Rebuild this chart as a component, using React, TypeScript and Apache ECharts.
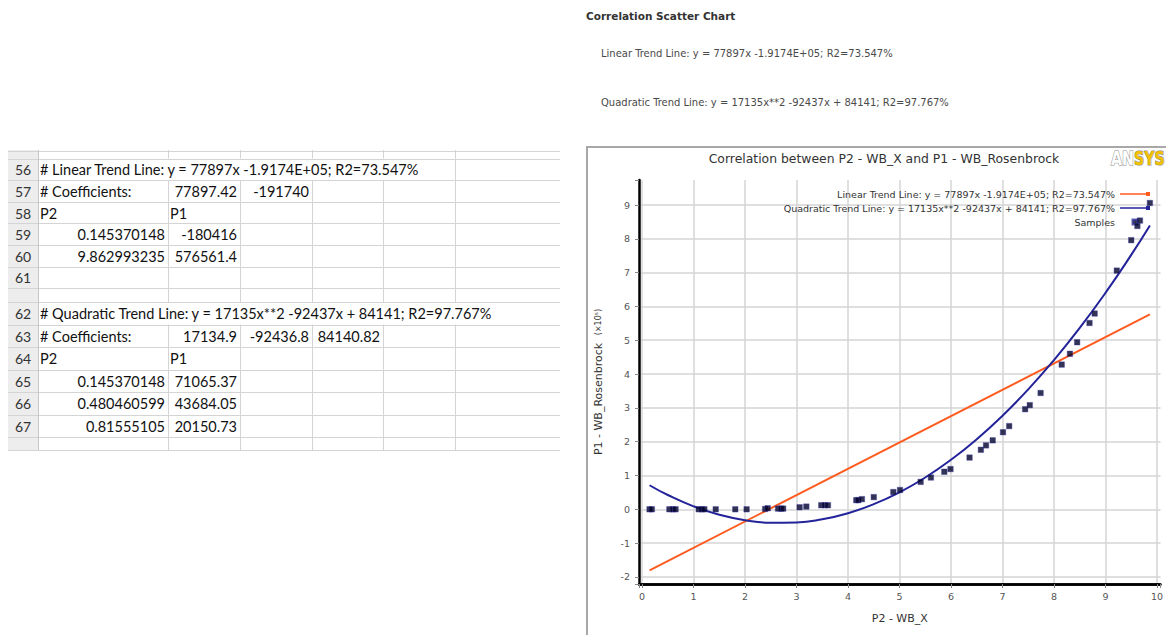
import React, { useEffect, useRef } from "react";
import * as echarts from "echarts";

// ---------- data ----------
const legendNames = [
  "Linear Trend Line: y = 77897x -1.9174E+05; R2=73.547%",
  "Quadratic Trend Line: y = 17135x**2 -92437x + 84141; R2=97.767%",
  "Samples",
];

// samples: P2 (x) and P1 (y, in units of 1e5)
const sampleP2 = [
  0.145, 0.19, 0.53, 0.6, 0.65, 1.1, 1.16, 1.21, 1.43, 1.81, 2.03, 2.39, 2.44, 2.64, 2.7, 2.74,
  3.06, 3.19, 3.48, 3.55, 3.61, 4.16, 4.2, 4.27, 4.5, 4.88, 5.01, 5.41, 5.61, 5.87, 5.99, 6.36,
  6.58, 6.68, 6.81, 7.01, 7.13, 7.44, 7.53, 7.74, 8.15, 8.31, 8.45, 8.69, 8.79, 9.22, 9.5, 9.62,
  9.67, 9.863,
];
const sampleP1 = [
  0.0, 0.0, 0.0, 0.0, 0.0, 0.0, 0.0, 0.0, 0.0, 0.0, 0.0, 0.01, 0.03, 0.02, 0.02, 0.02,
  0.06, 0.08, 0.12, 0.12, 0.12, 0.27, 0.27, 0.3, 0.36, 0.51, 0.57, 0.81, 0.94, 1.11, 1.19, 1.53,
  1.76, 1.89, 2.04, 2.28, 2.46, 2.96, 3.08, 3.44, 4.28, 4.6, 4.94, 5.51, 5.79, 7.06, 7.96, 8.38,
  8.54, 9.06,
];

// linear trend line end points (P1 in 1e5)
const linearP2 = [0.145370148, 9.862993235];
const linearP1 = [-1.80416, 5.765614];

// quadratic trend line points (P1 in 1e5)
const quadP2 = [0.145, 0.5, 1, 1.5, 2, 2.5, 3, 3.5, 4, 4.5, 5, 5.5, 6, 6.5, 7, 7.5, 8, 8.5, 9, 9.5, 9.863];
const quadP1 = [0.711, 0.422, 0.088, -0.16, -0.322, -0.399, -0.39, -0.295, -0.115, 0.152, 0.503, 0.941, 1.464, 2.073, 2.767, 3.547, 4.413, 5.364, 6.401, 7.524, 8.393];

// axis extents
const xRange = [-0.06, 10.07];
const yRange = [-2.21, 9.74];

// spreadsheet
const sheetRowNumbers1 = [56, 57, 58, 59, 60, 61];
const sheetCells1 = [
  ["# Linear Trend Line: y = 77897x -1.9174E+05; R2=73.547%"],
  ["# Coefficients:", "77897.42", "-191740"],
  ["P2", "P1"],
  ["0.145370148", "-180416"],
  ["9.862993235", "576561.4"],
  [],
];
const sheetRowNumbers2 = [62, 63, 64, 65, 66, 67];
const sheetCells2 = [
  ["# Quadratic Trend Line: y = 17135x**2 -92437x + 84141; R2=97.767%"],
  ["# Coefficients:", "17134.9", "-92436.8", "84140.82"],
  ["P2", "P1"],
  ["0.145370148", "71065.37"],
  ["0.480460599", "43684.05"],
  ["0.81555105", "20150.73"],
];

const topTitle = "Correlation Scatter Chart";
const chartTitle = "Correlation between P2 - WB_X and P1 - WB_Rosenbrock";

// ---------- layout ----------
const FONT_CHART = "'DejaVu Sans', sans-serif";
const FONT_TOP = "'DejaVu Sans Condensed', 'DejaVu Sans', sans-serif";
const FONT_SHEET = "Lato, 'Noto Sans', sans-serif";
const colEdges = [38, 168, 240, 312, 383, 455, 560];
const headerLeft = 8;
const blocks = [
  { top: 158.5, rowH: 21.6, numbers: sheetRowNumbers1, cells: sheetCells1, spans: [5, 1, 1, 1, 1, 1] },
  { top: 302, rowH: 22.5, numbers: sheetRowNumbers2, cells: sheetCells2, spans: [6, 1, 1, 1, 1, 1] },
];
const strips = [
  [150, 158.5],
  [288.1, 302],
  [437, 450],
];

const ICON_LINE = "path://M0,3.2H26V2H30V6H26V4.8H0Z";
const ICON_SAMPLE = "path://M0,0M8,8M1.5,1.5H6.5V6.5H1.5Z";

function isNumeric(t: string) {
  return /^-?[0-9.]+$/.test(t);
}

function buildSheet(): any[] {
  const els: any[] = [];
  const gridColor = "#d4d4d4";
  els.push({
    type: "rect",
    shape: { x: headerLeft, y: 150, width: colEdges[0] - headerLeft, height: 300 },
    style: { fill: "#ededed" },
  });
  for (const [a, b] of strips) {
    for (let k = 1; k <= 5; k++) {
      els.push({
        type: "line",
        shape: { x1: colEdges[k] + 0.5, y1: a, x2: colEdges[k] + 0.5, y2: b },
        style: { stroke: gridColor, lineWidth: 1 },
      });
    }
  }
  const hLines: number[] = [];
  for (const bl of blocks) {
    bl.numbers.forEach((n, i) => {
      const y0 = bl.top + i * bl.rowH;
      const y1 = y0 + bl.rowH;
      hLines.push(y0, y1);
      const span = bl.spans[i];
      for (let k = 1; k <= 5; k++) {
        if (k < span) continue;
        els.push({
          type: "line",
          shape: { x1: colEdges[k] + 0.5, y1: y0, x2: colEdges[k] + 0.5, y2: y1 },
          style: { stroke: gridColor, lineWidth: 1 },
        });
      }
      const cy = y0 + bl.rowH / 2 + 0.5;
      els.push({
        type: "text",
        x: 23,
        y: cy,
        style: {
          text: String(n),
          fontSize: 14,
          fontFamily: FONT_SHEET,
          fill: "#333",
          textAlign: "center",
          textVerticalAlign: "middle",
        },
      });
      bl.cells[i].forEach((t, c) => {
        if (!t) return;
        const num = isNumeric(t);
        els.push({
          type: "text",
          x: num ? colEdges[c + 1] - 3 : colEdges[c] + 2,
          y: cy,
          style: {
            text: t,
            fontSize: 14.5,
            fontFamily: FONT_SHEET,
            fill: "#111",
            textAlign: num ? "right" : "left",
            textVerticalAlign: "middle",
          },
        });
      });
    });
  }
  hLines.push(150.5, 450);
  for (const y of hLines) {
    els.push({
      type: "line",
      shape: { x1: headerLeft, y1: Math.round(y) + 0.5, x2: 560, y2: Math.round(y) + 0.5 },
      style: { stroke: gridColor, lineWidth: 1 },
    });
  }
  els.push({
    type: "line",
    shape: { x1: colEdges[0] + 0.5, y1: 150, x2: colEdges[0] + 0.5, y2: 450 },
    style: { stroke: "#c6c6c6", lineWidth: 1 },
  });
  return els;
}

export default function App() {
  const ref = useRef<HTMLDivElement>(null);
  useEffect(() => {
    document.body.style.margin = "0";
    if (!ref.current) return;
    const chart = echarts.init(ref.current, undefined, { renderer: "svg" });
    const intFmt = (v: number) => (Number.isInteger(v) ? String(v) : "");
    // main axes: axis line, ticks, labels (drawn on top)
    const mainAxis = {
      type: "value",
      minInterval: 1,
      maxInterval: 1,
      z: 6,
      nameLocation: "middle",
      axisLine: { show: true, onZero: false, lineStyle: { color: "#000000", width: 2.5 } },
      axisTick: { show: true, inside: false, length: 4, lineStyle: { color: "#888" } },
      splitLine: { show: false },
    };
    // grid axes: only the light grid lines (drawn beneath)
    const gridAxis = {
      type: "value",
      minInterval: 1,
      maxInterval: 1,
      z: 0,
      axisLine: { show: false, onZero: false },
      axisTick: { show: false },
      axisLabel: { show: false },
      splitLine: { show: true, showMinLine: false, showMaxLine: false, lineStyle: { color: "#d4d4d4", width: 1.5 } },
    };
    const option: any = {
      animation: false,
      backgroundColor: "#ffffff",
      textStyle: { fontFamily: FONT_CHART },
      grid: { left: 639, right: 3, top: 180, bottom: 51, containLabel: false },
      legend: {
        orient: "vertical",
        right: 11,
        top: 184,
        align: "right",
        itemWidth: 30,
        itemHeight: 8,
        itemGap: 4,
        symbolKeepAspect: true,
        textStyle: { fontSize: 9.5, color: "#333", fontFamily: FONT_CHART },
        data: [
          { name: legendNames[0], icon: ICON_LINE },
          { name: legendNames[1], icon: ICON_LINE },
          { name: legendNames[2], icon: ICON_SAMPLE },
        ],
      },
      xAxis: [
        {
          ...mainAxis,
          position: "bottom",
          min: xRange[0],
          max: xRange[1],
          name: "P2 - WB_X",
          nameGap: 29,
          nameTextStyle: { fontSize: 11, color: "#333", fontFamily: FONT_CHART },
          axisLabel: { fontSize: 9.5, color: "#555", margin: 7, formatter: intFmt },
        },
        { ...gridAxis, position: "top", min: xRange[0], max: xRange[1] },
      ],
      yAxis: [
        {
          ...mainAxis,
          position: "left",
          min: yRange[0],
          max: yRange[1],
          name: "{a|P1 - WB_Rosenbrock}  {b|(×10⁵)}",
          nameRotate: 90,
          nameGap: 35,
          nameTextStyle: {
            color: "#333",
            rich: {
              a: { fontSize: 11, color: "#333", fontFamily: FONT_CHART },
              b: { fontSize: 8, color: "#333", fontFamily: FONT_CHART },
            },
          },
          axisLabel: { fontSize: 9.5, color: "#555", margin: 9, formatter: intFmt },
        },
        { ...gridAxis, position: "right", min: yRange[0], max: yRange[1] },
      ],
      series: [
        {
          name: legendNames[0],
          type: "line",
          xAxisIndex: 0,
          yAxisIndex: 0,
          data: linearP2.map((x, i) => [x, linearP1[i]]),
          symbol: "none",
          lineStyle: { color: "#ff5b1f", width: 2 },
          itemStyle: { color: "#ff5b1f" },
          z: 3,
        },
        {
          name: legendNames[1],
          type: "line",
          xAxisIndex: 0,
          yAxisIndex: 0,
          smooth: true,
          data: quadP2.map((x, i) => [x, quadP1[i]]),
          symbol: "none",
          lineStyle: { color: "#23239a", width: 2 },
          itemStyle: { color: "#23239a" },
          z: 3,
        },
        {
          name: legendNames[2],
          type: "scatter",
          xAxisIndex: 0,
          yAxisIndex: 0,
          data: sampleP2.map((x, i) => [x, sampleP1[i]]),
          symbol: "rect",
          symbolSize: 5.5,
          itemStyle: { color: "#000028", borderColor: "#3c3ca8", borderWidth: 0.5 },
          z: 4,
          markLine: {
            silent: true,
            symbol: "none",
            label: { show: false },
            lineStyle: { color: "#000000", width: 2.5, type: "solid" },
            emphasis: { disabled: true },
            data: [{ yAxis: yRange[0] }],
          },
        },
      ],
      graphic: [
        ...buildSheet(),
        {
          type: "text",
          x: 586,
          y: 16,
          style: { text: topTitle, fontSize: 10.5, fontWeight: "bold", fontFamily: FONT_CHART, fill: "#333", textVerticalAlign: "middle" },
        },
        {
          type: "text",
          x: 601,
          y: 53,
          style: { text: legendNames[0], fontSize: 11.1, fontFamily: FONT_TOP, fill: "#4a4a4a", textVerticalAlign: "middle" },
        },
        {
          type: "text",
          x: 601,
          y: 102,
          style: { text: legendNames[1], fontSize: 11.1, fontFamily: FONT_TOP, fill: "#4a4a4a", textVerticalAlign: "middle" },
        },
        {
          type: "rect",
          z: -10,
          shape: { x: 587, y: 147, width: 700, height: 600 },
          style: { fill: "none", stroke: "#a8a8a8", lineWidth: 2 },
        },
        {
          type: "text",
          x: 884,
          y: 158,
          style: { text: chartTitle, fontSize: 12.4, fontFamily: FONT_CHART, fill: "#333", textAlign: "center", textVerticalAlign: "middle" },
        },
        {
          type: "text",
          x: 1111,
          y: 158,
          scaleX: 0.75,
          style: { text: "AN", fontSize: 19, fontWeight: "bold", fontFamily: FONT_CHART, fill: "#ffffff", stroke: "#8c8c8c", lineWidth: 1.2, textVerticalAlign: "middle" },
        },
        {
          type: "text",
          x: 1134,
          y: 158,
          scaleX: 0.75,
          style: { text: "SYS", fontSize: 19, fontWeight: "bold", fontFamily: FONT_CHART, fill: "#f2c200", stroke: "#8c8c8c", lineWidth: 1.2, textVerticalAlign: "middle" },
        },
      ],
    };
    chart.setOption(option);
    return () => chart.dispose();
  }, []);
  return <div ref={ref} style={{ width: 1166, height: 635 }} />;
}
